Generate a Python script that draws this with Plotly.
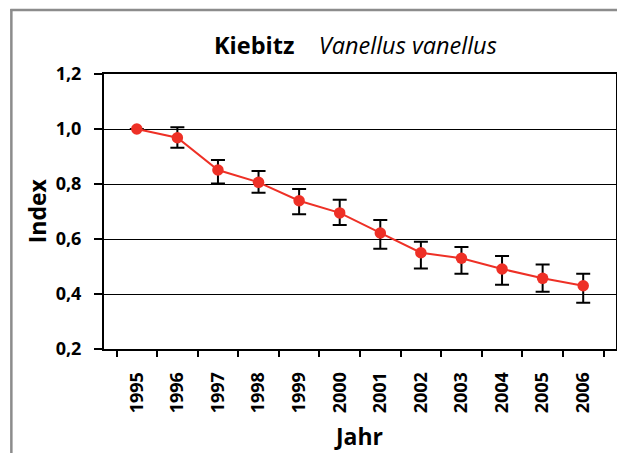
import plotly.graph_objects as go

years = ["1995", "1996", "1997", "1998", "1999", "2000", "2001", "2002", "2003", "2004", "2005", "2006"]
index_vals = [1.000, 0.968, 0.851, 0.806, 0.739, 0.695, 0.622, 0.550, 0.530, 0.491, 0.457, 0.430]
err_upper = [None, 1.006, 0.887, 0.847, 0.782, 0.743, 0.669, 0.590, 0.571, 0.538, 0.507, 0.474]
err_lower = [None, 0.932, 0.802, 0.768, 0.690, 0.651, 0.565, 0.493, 0.474, 0.434, 0.408, 0.368]

plus = [0 if u is None else u - v for u, v in zip(err_upper, index_vals)]
minus = [0 if l is None else v - l for l, v in zip(err_lower, index_vals)]

FONT = "Open Sans"

# page has an 8px body margin; work in svg pixel coordinates (page - 8)
W, H = 617, 445
L, R, T, B = 96, 7, 66, 104
pw, ph = W - L - R, H - T - B

def px_x(p):
    return (p - L) / pw

def px_y(p):
    return (H - B - p) / ph

fig = go.Figure()
fig.add_trace(go.Scatter(
    x=years, y=index_vals, mode="lines+markers",
    line=dict(color="#ee3026", width=2),
    marker=dict(color="#ee3026", size=11.5),
    error_y=dict(type="data", symmetric=False, array=plus, arrayminus=minus,
                 color="black", thickness=2, width=7),
    showlegend=False,
))

nb = "\u00a0"
fig.update_layout(
    width=W, height=H,
    margin=dict(l=L, r=R, t=T, b=B),
    paper_bgcolor="white", plot_bgcolor="white",
    separators=",.",
    font=dict(family=FONT, color="black"),
    xaxis=dict(
        type="category", tickson="boundaries",
        showline=True, linecolor="black", linewidth=2, mirror=True,
        ticks="outside", ticklen=6, tickwidth=1.5, tickcolor="black",
        tickangle=-90, tickfont=dict(size=18, family=FONT, weight="bold"),
        ticklabelstandoff=14,
        showgrid=False,
    ),
    yaxis=dict(
        range=[0.2, 1.2], dtick=0.2, tickformat=".1f",
        showline=True, linecolor="black", linewidth=2, mirror=True,
        ticks="outside", ticklen=8, tickwidth=1.5, tickcolor="black",
        tickfont=dict(size=18, family=FONT, weight="bold"),
        ticklabelstandoff=9,
        showgrid=True, gridcolor="black", gridwidth=1,
        zeroline=False,
    ),
    annotations=[
        dict(text="<b>Kiebitz</b>" + nb * 4 + "<i>Vanellus vanellus</i>",
             xref="paper", yref="paper", x=px_x(348), y=px_y(37),
             xanchor="center", yanchor="middle", showarrow=False,
             font=dict(size=23.5, family=FONT)),
        dict(text="<b>Jahr</b>", xref="paper", yref="paper",
             x=px_x(351), y=px_y(428), xanchor="center", yanchor="middle",
             showarrow=False, font=dict(size=23, family=FONT)),
        dict(text="<b>Index</b>", xref="paper", yref="paper",
             x=px_x(29), y=px_y(203), xanchor="center", yanchor="middle",
             textangle=-90, showarrow=False, font=dict(size=23, family=FONT)),
    ],
    shapes=[
        dict(type="line", xref="paper", yref="paper",
             x0=px_x(3), x1=px_x(3), y0=px_y(460), y1=px_y(1),
             line=dict(color="#8c8c8c", width=2.5)),
        dict(type="line", xref="paper", yref="paper",
             x0=px_x(2), x1=px_x(630), y0=px_y(2), y1=px_y(2),
             line=dict(color="#8c8c8c", width=2.5)),
    ],
)

fig.write_html("out.html")
